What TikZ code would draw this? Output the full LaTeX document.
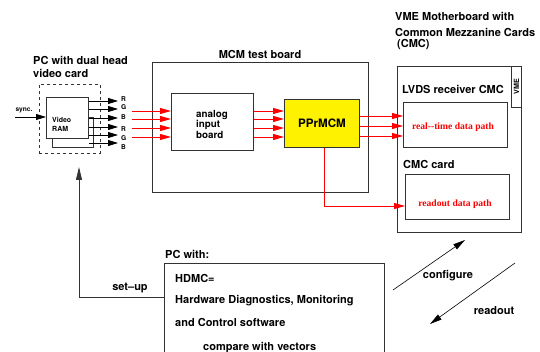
\documentclass[tikz,border=0pt]{standalone}
\usepackage{fontspec}
\setmainfont{TeX Gyre Heros}
\newfontfamily\serifbf{Liberation Serif}
\usetikzlibrary{arrows.meta}
\begin{document}
\begin{tikzpicture}[x=1pt,y=-1pt,
  box/.style={draw=black!80, line width=0.9pt, inner sep=0pt, anchor=north west},
  lbl/.style={font=\bfseries\fontsize{11}{13}\selectfont, inner sep=0pt, anchor=west},
  tiny/.style={font=\bfseries\fontsize{6.6}{7}\selectfont, inner sep=0pt},
  redtxt/.style={font=\serifbf\bfseries\fontsize{9.6}{10}\selectfont, text=red, inner sep=0pt},
  redarr/.style={draw=red, line width=0.8pt, -{Triangle[length=11pt,width=6pt]}},
  blkarr/.style={draw=black, line width=0.8pt, -{Triangle[length=10pt,width=6pt]}},
  thinarr/.style={draw=black, line width=0.6pt, -{Triangle[length=12pt,width=6pt]}}]
\useasboundingbox (0,0) rectangle (540,352);

% ---- PC with dual head video card
\node[lbl] (t1) at (33,60) {PC with dual head};
\node[lbl] (t2) at (33,73) {video card};
\node[box, dashed, minimum width=61pt, minimum height=69pt] (dash) at (39,84) {};
\node[box, minimum width=41pt, minimum height=30pt] (back) at (52,117) {};
\node[box, fill=white, minimum width=42pt, minimum height=41pt] (front) at (46,97) {};
\node[tiny, font=\bfseries\fontsize{7}{8}\selectfont, anchor=west] (v1) at (52,120) {Video};
\node[tiny, font=\bfseries\fontsize{7}{8}\selectfont, anchor=west] (v2) at (52,129) {RAM};
\node[tiny] (sync) at (24,110) {sync.};
\coordinate (s0) at (15,117);
\draw[blkarr] (s0) -- (front.west |- s0);

\foreach \ya/\yl/\c [count=\i] in {101/99/R,109/107/G,118/117/B,127/129/R,135/138/G,143/147/B}{
  \coordinate (o\i) at (118,\ya);
  \draw[blkarr] (front.east |- o\i) -- (o\i);
  \node[tiny, anchor=west] (rgb\i) at (121,\yl) {\c};
}

% ---- MCM test board
\node[box, minimum width=216pt, minimum height=130pt] (mcm) at (152,62) {};
\node[lbl, anchor=center] (mcmt) at (260,54) {MCM test board};
\node[box, minimum width=82pt, minimum height=57pt] (analog) at (171,93) {};
\node[lbl, font=\bfseries\fontsize{9.8}{11}\selectfont] (an1) at (196,115) {analog};
\node[lbl, font=\bfseries\fontsize{9.8}{11}\selectfont] (an2) at (196,125) {input};
\node[lbl, font=\bfseries\fontsize{9.8}{11}\selectfont] (an3) at (196,135) {board};
\node[box, fill=yellow, minimum width=75pt, minimum height=48pt] (ppr) at (284,99) {};
\node[lbl, anchor=center, font=\bfseries\fontsize{11.6}{13}\selectfont] (pprt) at (ppr.center) {PPrMCM};

\foreach \y [count=\i] in {111,119,128,137}{
  \coordinate (a\i) at (132,\y);
  \draw[redarr] (a\i) -- (analog.west |- a\i);
  \draw[redarr] (analog.east |- a\i) -- (ppr.west |- a\i);
}

% ---- VME motherboard
\node[lbl] (m1) at (395,16) {VME Motherboard with};
\node[lbl] (m2) at (395,32) {Common Mezzanine Cards};
\node[lbl] (m3) at (397,45) {(CMC)};
\node[box, minimum width=124pt, minimum height=166pt] (vme) at (397,66) {};
\node[box, minimum width=10pt, minimum height=41pt] (tab) at (511,66) {};
\node[tiny, rotate=90, font=\bfseries\fontsize{7.2}{8}\selectfont] (tabt) at (tab.center) {VME};
\node[lbl] (lv) at (402,89) {LVDS receiver CMC};
\node[box, minimum width=104pt, minimum height=45pt] (lvds) at (403,102) {};
\node[redtxt] (rt) at (453,127) {real--time data path};
\node[lbl] (cc) at (403,164) {CMC card};
\node[box, minimum width=104pt, minimum height=45pt] (rdbox) at (405,174) {};
\node[redtxt] (rd) at (455,204) {readout data path};

\foreach \y [count=\i] in {116,126,136}{
  \coordinate (b\i) at (0,\y);
  \draw[redarr] (ppr.east |- b\i) -- (lvds.west |- b\i);
}
\coordinate (c1) at (324,206);
\draw[redarr] (ppr.south -| c1) -- (c1) -- (rdbox.west |- c1);

% ---- PC with HDMC
\node[lbl] (pcw) at (165,254) {PC with:};
\node[box, minimum width=220pt, minimum height=100pt] (pc) at (164,263) {};
\node[lbl] (h1) at (175,278) {HDMC=};
\node[lbl] (h2) at (175,301) {Hardware Diagnostics, Monitoring};
\node[lbl] (h3) at (175,322) {and Control software};
\node[lbl] (h4) at (203,348) {compare with vectors};

\coordinate (su2) at (79,297);
\coordinate (su) at (79,167);
\draw[draw=black!80, line width=0.8pt, -{Triangle[length=13pt,width=6pt]}] (pc.west |- su2) -- (su2) -- (su);
\node[lbl, anchor=center] (sut) at (130,288) {set--up};

\coordinate (k0) at (393,290);
\coordinate (k1) at (465,240);
\draw[thinarr] (k0) -- (k1);
\node[lbl, anchor=center] (kt) at (448,276) {configure};
\coordinate (r0) at (515,263);
\coordinate (r1) at (430,324);
\draw[thinarr] (r0) -- (r1);
\node[lbl, anchor=center] (rdt) at (494,311) {readout};
\end{tikzpicture}
\end{document}
